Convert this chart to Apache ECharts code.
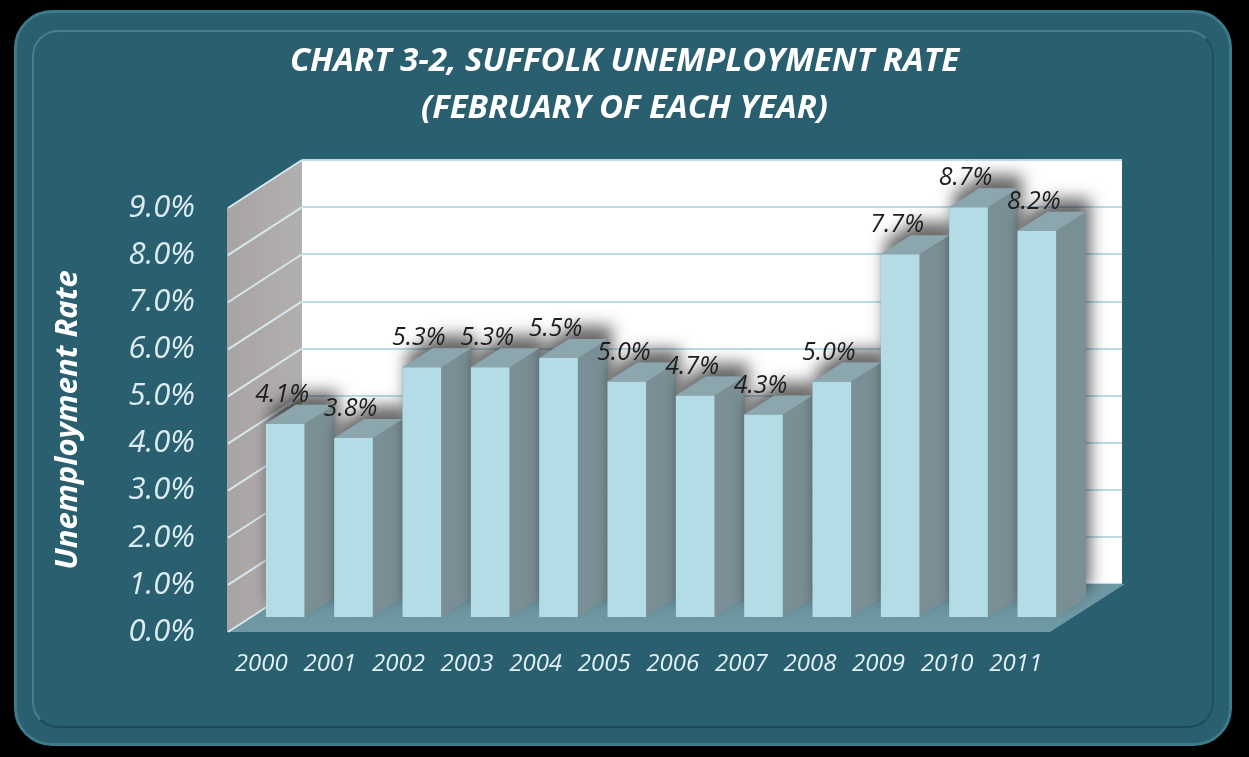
<!DOCTYPE html>
<html><head><meta charset="utf-8">
<script src="https://cdn.jsdelivr.net/npm/echarts@6/dist/echarts.min.js"></script>
<style>
html,body{margin:0;padding:0;background:#000;width:1249px;height:757px;overflow:hidden}
#panel{position:absolute;left:14px;top:10px;width:1218px;height:736px;border-radius:38px;background:#2a5f6f;box-sizing:border-box;border:3px solid #3d7b8c;}
#ring{position:absolute;left:32px;top:30px;width:1182px;height:698px;border-radius:26px;box-sizing:border-box;border:2px solid rgba(110,165,180,0.45);border-bottom-color:rgba(20,60,70,0.6);border-right-color:rgba(20,60,70,0.4);}
#chart{position:absolute;left:0;top:0;width:1249px;height:757px}
</style></head>
<body><div id="panel"></div><div id="ring"></div><div id="chart"></div>
<script>
const categories = ['2000','2001','2002','2003','2004','2005','2006','2007','2008','2009','2010','2011'];
const rates = [4.1, 3.8, 5.3, 5.3, 5.5, 5.0, 4.7, 4.3, 5.0, 7.7, 8.7, 8.2];
const yTicks = [0, 1, 2, 3, 4, 5, 6, 7, 8, 9];
const chartTitle = 'CHART 3-2, SUFFOLK UNEMPLOYMENT RATE\n(FEBRUARY OF EACH YEAR)';
const yAxisTitle = 'Unemployment Rate';

// depth offsets (styling constants)
const DX = 75, DY = -48;      // full depth of the plot box
const BDX = 30, BDY = -19;    // depth of a bar
const FONT = '"Open Sans", Lato, sans-serif';

const chart = echarts.init(document.getElementById('chart'), null, {renderer: 'canvas'});

function edges(api) {
  const w = api.size([1, 0])[0];
  const l = api.coord([0, 0])[0] - w / 2;
  const r = api.coord([categories.length - 1, 0])[0] + w / 2;
  return {l, r, w};
}

const option = {
  animation: false,
  title: {
    text: chartTitle, left: 'center', top: 33,
    textStyle: {color: '#ffffff', fontSize: 33, fontWeight: 'bold', fontStyle: 'italic', fontFamily: FONT, lineHeight: 47}
  },
  grid: [
    {left: 227, top: 208, width: 823, height: 424},
    {left: 251, top: 193, width: 820, height: 424},
    {left: 302, top: 160, width: 820, height: 424, show: true, backgroundColor: '#ffffff', borderWidth: 0}
  ],
  xAxis: [
    {gridIndex: 0, type: 'category', data: categories, axisLine: {show: false}, axisTick: {show: false},
     axisLabel: {interval: 0, color: '#e2f1f5', fontFamily: FONT, fontStyle: 'italic', fontSize: 24, margin: 20}},
    {gridIndex: 1, type: 'category', data: categories, show: false},
    {gridIndex: 2, type: 'category', data: categories, show: false}
  ],
  yAxis: [
    {gridIndex: 0, type: 'value', min: 0, max: 9, interval: 1,
     axisLine: {show: false}, axisTick: {show: false}, splitLine: {show: false},
     axisLabel: {formatter: v => v.toFixed(1) + '%', color: '#dcedf2', fontFamily: FONT, fontStyle: 'italic', fontSize: 31, margin: 32},
     name: yAxisTitle, nameLocation: 'middle', nameGap: 143, nameRotate: 90,
     nameTextStyle: {color: '#ffffff', fontFamily: FONT, fontWeight: 'bold', fontStyle: 'italic', fontSize: 31}},
    {gridIndex: 1, type: 'value', min: 0, max: 9, interval: 1, show: false},
    {gridIndex: 2, type: 'value', min: 0, max: 9, interval: 1,
     axisLine: {show: false}, axisTick: {show: false}, axisLabel: {show: false},
     splitLine: {show: true, lineStyle: {color: '#bcdde6', width: 2}}}
  ],
  series: [
    { // floor + left wall
      type: 'custom', xAxisIndex: 0, yAxisIndex: 0, z: 2, silent: true,
      data: [[0, 0]],
      renderItem: function (params, api) {
        const e = edges(api);
        const y0 = api.coord([0, yTicks[0]])[1];
        const yTop = api.coord([0, yTicks[yTicks.length - 1]])[1];
        const children = [];
        children.push({type: 'polygon', shape: {points: [[e.l, y0], [e.r, y0], [e.r + DX, y0 + DY], [e.l + DX, y0 + DY]]},
          style: {fill: '#6e98a3'}});
        children.push({type: 'polygon', shape: {points: [[e.l, y0], [e.l, yTop], [e.l + DX, yTop + DY], [e.l + DX, y0 + DY]]},
          style: {fill: new echarts.graphic.LinearGradient(0, 0, 1, 0, [{offset: 0, color: '#a9a4a4'}, {offset: 1, color: '#b2afaf'}])}});
        yTicks.forEach(function (v) {
          const y = api.coord([0, v])[1];
          children.push({type: 'line', shape: {x1: e.l + 1, y1: y, x2: e.l + DX, y2: y + DY},
            style: {stroke: '#d6e8ed', lineWidth: 2}});
        });
        return {type: 'group', children: children};
      }
    },
    { // 3D bars
      type: 'custom', xAxisIndex: 1, yAxisIndex: 1, z: 3, silent: true,
      data: rates.map((v, i) => [i, v]),
      renderItem: function (params, api) {
        const i = api.value(0), v = api.value(1);
        const c = api.coord([i, v]);
        const b = api.coord([i, 0]);
        const w = api.size([1, 0])[0];
        const fw = w * 0.565;
        const x0 = c[0] - fw / 2, x1 = c[0] + fw / 2;
        const top = c[1], bot = b[1];
        return {
          type: 'group',
          children: [
            {type: 'polygon', z2: 0,
             shape: {points: [[x0, bot], [x0, top], [x0 + BDX, top + BDY], [x1 + BDX, top + BDY], [x1 + BDX, bot + BDY], [x1, bot]]},
             style: {fill: '#7a8f95', shadowBlur: 16, shadowColor: 'rgba(0,0,0,0.6)', shadowOffsetX: 4, shadowOffsetY: -13}},
            {type: 'rect', z2: 1, shape: {x: x0, y: top, width: fw, height: bot - top}, style: {fill: '#b3dce6'}},
            {type: 'polygon', z2: 1,
             shape: {points: [[x0, top], [x1, top], [x1 + BDX, top + BDY], [x0 + BDX, top + BDY]]},
             style: {fill: '#8ca6ad'}},
            {type: 'text', z2: 5,
             style: {text: v.toFixed(1) + '%', x: c[0] - 3, y: top - 29, align: 'center', verticalAlign: 'middle',
                     font: 'italic 25px "Open Sans", Lato, sans-serif', fill: '#1e1e1e'}}
          ]
        };
      }
    }
  ]
};
chart.setOption(option);
</script>
</body></html>
